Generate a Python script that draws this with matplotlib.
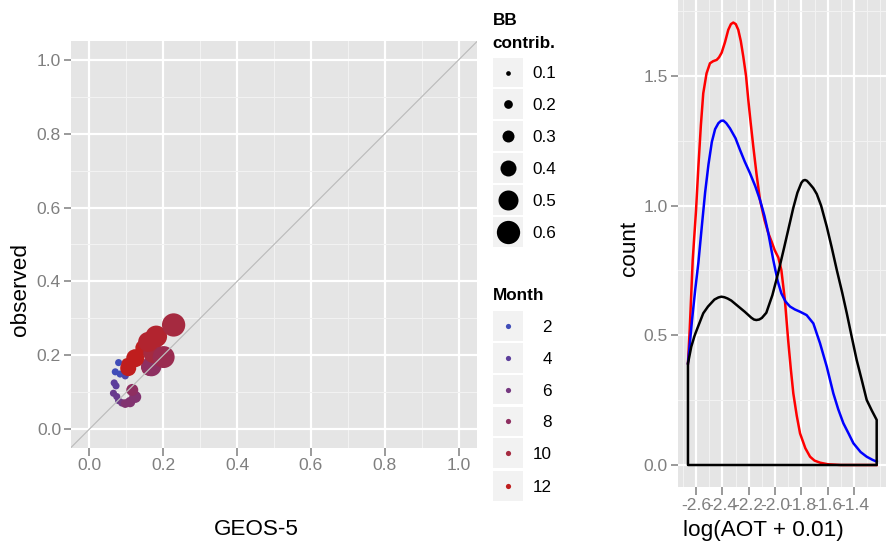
import numpy as np
import matplotlib
matplotlib.use('Agg')
import matplotlib.pyplot as plt
from matplotlib.colors import LinearSegmentedColormap
from matplotlib.patches import Rectangle, Polygon

plt.rcParams['font.family'] = ['Liberation Sans', 'DejaVu Sans']

# ---------------- scatter data (GEOS-5 vs observed) ----------------
geos5 = [0.079, 0.070, 0.083, 0.097, 0.067, 0.072, 0.065, 0.074, 0.079, 0.088,
         0.097, 0.110, 0.124, 0.116, 0.164, 0.168, 0.105, 0.101, 0.119, 0.124,
         0.146, 0.173, 0.201, 0.159, 0.181, 0.228]
observed = [0.180, 0.155, 0.149, 0.144, 0.125, 0.117, 0.097, 0.088, 0.077, 0.071,
            0.069, 0.073, 0.087, 0.106, 0.168, 0.170, 0.165, 0.178, 0.196, 0.192,
            0.220, 0.206, 0.195, 0.236, 0.251, 0.282]
month = [2, 2, 2, 3, 4, 4, 5, 5, 5, 6,
         7, 7, 7, 8, 9, 8, 12, 12, 12, 12,
         12, 10, 9, 11, 11, 10]
bb_contrib = [0.16, 0.16, 0.16, 0.16, 0.16, 0.16, 0.16, 0.16, 0.16, 0.17,
              0.2, 0.25, 0.3, 0.3, 0.45, 0.5, 0.4, 0.25, 0.3, 0.45,
              0.4, 0.5, 0.56, 0.5, 0.55, 0.6]

bb_legend_values = [0.1, 0.2, 0.3, 0.4, 0.5, 0.6]
bb_legend_labels = ['0.1', '0.2', '0.3', '0.4', '0.5', '0.6']
month_legend_values = [2, 4, 6, 8, 10, 12]
month_legend_labels = ['2', '4', '6', '8', '10', '12']
month_colors = ['#404DB8', '#5C3E9B', '#753880', '#8E2F61', '#A52A40', '#BF1E1E']

# ---------------- density data ----------------
black_x = [-2.661, -2.648, -2.636, -2.61, -2.585, -2.545, -2.509, -2.46, -2.43, -2.408,
           -2.385, -2.36, -2.332, -2.28, -2.23, -2.18, -2.16, -2.142, -2.12, -2.10,
           -2.066, -2.02, -1.977, -1.93, -1.90, -1.862, -1.83, -1.80, -1.786, -1.772,
           -1.758, -1.74, -1.71, -1.683, -1.65, -1.607, -1.57, -1.531, -1.49, -1.455,
           -1.42, -1.38, -1.34, -1.304, -1.265, -1.228]
black_y = [0.392, 0.425, 0.456, 0.50, 0.533, 0.585, 0.611, 0.638, 0.646, 0.649,
           0.647, 0.642, 0.634, 0.612, 0.591, 0.568, 0.561, 0.559, 0.561, 0.567,
           0.587, 0.655, 0.739, 0.84, 0.906, 0.99, 1.05, 1.088, 1.097, 1.099,
           1.096, 1.086, 1.068, 1.045, 1.0, 0.919, 0.84, 0.752, 0.665, 0.585,
           0.50, 0.405, 0.325, 0.251, 0.21, 0.174]

red_x = [-2.661, -2.648, -2.636, -2.625, -2.60, -2.582, -2.563, -2.545, -2.52, -2.494,
         -2.47, -2.443, -2.425, -2.405, -2.38, -2.355, -2.335, -2.317, -2.298, -2.279,
         -2.26, -2.241, -2.22, -2.203, -2.185, -2.165, -2.14, -2.114, -2.08, -2.051,
         -2.025, -2.003, -1.975, -1.952, -1.925, -1.90, -1.88, -1.861, -1.835, -1.81,
         -1.77, -1.734, -1.70, -1.658, -1.60, -1.50, -1.40, -1.30, -1.228]
red_y = [0.392, 0.52, 0.66, 0.79, 0.98, 1.15, 1.31, 1.433, 1.51, 1.549,
         1.557, 1.562, 1.572, 1.59, 1.63, 1.678, 1.70, 1.706, 1.70, 1.678,
         1.635, 1.575, 1.50, 1.408, 1.32, 1.228, 1.12, 1.022, 0.945, 0.894,
         0.86, 0.829, 0.80, 0.752, 0.636, 0.48, 0.37, 0.276, 0.19, 0.122,
         0.065, 0.032, 0.017, 0.009, 0.003, 0.0, 0.0, 0.0, 0.0]

blue_x = [-2.661, -2.63, -2.605, -2.582, -2.554, -2.531, -2.505, -2.48, -2.455, -2.43,
          -2.41, -2.392, -2.37, -2.342, -2.30, -2.266, -2.23, -2.19, -2.15, -2.114,
          -2.08, -2.051, -2.013, -1.98, -1.952, -1.92, -1.886, -1.85, -1.81, -1.76,
          -1.709, -1.658, -1.607, -1.557, -1.52, -1.481, -1.44, -1.405, -1.35, -1.304,
          -1.26, -1.228]
blue_y = [0.392, 0.56, 0.68, 0.78, 0.93, 1.05, 1.16, 1.245, 1.295, 1.318,
          1.327, 1.328, 1.318, 1.298, 1.26, 1.215, 1.17, 1.125, 1.075, 1.022,
          0.96, 0.894, 0.79, 0.71, 0.662, 0.63, 0.611, 0.60, 0.591, 0.578,
          0.546, 0.469, 0.379, 0.276, 0.215, 0.161, 0.12, 0.084, 0.05, 0.032,
          0.02, 0.013]

dens_xticks = [-2.6, -2.4, -2.2, -2.0, -1.8, -1.6, -1.4]
dens_xticklabels = ['-2.6', '-2.4', '-2.2', '-2.0', '-1.8', '-1.6', '-1.4']
dens_yticks = [0.0, 0.5, 1.0, 1.5]
dens_yticklabels = ['0.0', '0.5', '1.0', '1.5']
sc_ticks = [0.0, 0.2, 0.4, 0.6, 0.8, 1.0]
sc_ticklabels = ['0.0', '0.2', '0.4', '0.6', '0.8', '1.0']

# ---------------- style helpers ----------------
W, H = 886, 545
BG = '#E5E5E5'
TICKC = '#7F7F7F'
legend_diam_px = [4.7, 8.7, 12.0, 16.0, 20.0, 23.3]


def size_of(bb):
    d = np.interp(bb, bb_legend_values, legend_diam_px)
    return (np.asarray(d) * 0.72) ** 2


cmap = LinearSegmentedColormap.from_list(
    'month', list(zip([(m - 2) / 10 for m in month_legend_values], month_colors)))


def style_axes(ax):
    ax.set_facecolor(BG)
    for s in ax.spines.values():
        s.set_visible(False)
    ax.grid(which='major', color='white', lw=1.6, zorder=0)
    ax.grid(which='minor', color='#F2F2F2', lw=0.8, zorder=0)
    ax.set_axisbelow(True)
    ax.tick_params(which='major', length=5.4, width=1.1, color=TICKC,
                   labelcolor=TICKC, labelsize=12.6)
    ax.tick_params(axis='x', pad=2.4)
    ax.tick_params(axis='y', pad=1.8)
    ax.tick_params(which='minor', length=0)


fig = plt.figure(figsize=(W / 100, H / 100), dpi=100)


def px_axes(x0, y0, x1, y1):
    return fig.add_axes([x0 / W, 1 - y1 / H, (x1 - x0) / W, (y1 - y0) / H])


# ---------------- scatter panel ----------------
ax1 = px_axes(71, 41.5, 477, 447.5)
style_axes(ax1)
ax1.set_xlim(-0.05, 1.05)
ax1.set_ylim(-0.05, 1.05)
ax1.set_xticks(sc_ticks)
ax1.set_xticklabels(sc_ticklabels)
ax1.set_yticks(sc_ticks)
ax1.set_yticklabels(sc_ticklabels)
ax1.set_xticks([0.1, 0.3, 0.5, 0.7, 0.9], minor=True)
ax1.set_yticks([0.1, 0.3, 0.5, 0.7, 0.9], minor=True)
ax1.scatter(geos5, observed, s=size_of(bb_contrib),
            c=cmap((np.asarray(month) - 2) / 10), linewidths=0, zorder=3)
ax1.axline((0, 0), slope=1, color='#BDBDBD', lw=0.9, zorder=4)

# ---------------- density panel ----------------
ax2 = px_axes(678, 0, 886, 487)
style_axes(ax2)
ax2.set_xlim(-2.7367, -1.1573)
ax2.set_ylim(-0.0848, 1.793)
ax2.set_xticks(dens_xticks)
ax2.set_xticklabels(dens_xticklabels)
ax2.set_yticks(dens_yticks)
ax2.set_yticklabels(dens_yticklabels)
ax2.set_xticks([-2.7, -2.5, -2.3, -2.1, -1.9, -1.7, -1.5, -1.3, -1.2], minor=True)
ax2.set_yticks([0.25, 0.75, 1.25, 1.75], minor=True)
ax2.plot(red_x, red_y, color='red', lw=1.8, zorder=3, solid_joinstyle='round')
ax2.plot(blue_x, blue_y, color='blue', lw=1.8, zorder=3, solid_joinstyle='round')
poly_x = [black_x[0]] + black_x + [black_x[-1]]
poly_y = [0.0] + black_y + [0.0]
ax2.add_patch(Polygon(np.column_stack([poly_x, poly_y]), closed=True, fill=False,
                      edgecolor='black', lw=1.8, zorder=4, joinstyle='round'))

# ---------------- overlay (titles + legends) in pixel coords ----------------
ov = fig.add_axes([0, 0, 1, 1], zorder=10)
ov.set_xlim(0, W)
ov.set_ylim(H, 0)
ov.axis('off')
ov.patch.set_alpha(0)

ov.text(256, 535, 'GEOS-5', fontsize=16.2, ha='center', va='baseline')
ov.text(763, 536, 'log(AOT + 0.01)', fontsize=16.2, ha='center', va='baseline')
ov.text(21, 290, 'observed', fontsize=16.2, ha='center', va='center', rotation=90)
ov.text(630, 248, 'count', fontsize=16.2, ha='center', va='center', rotation=90)

# BB contrib legend
ov.text(492.7, 25, 'BB', fontsize=12.3, fontweight='bold', ha='left', va='baseline')
ov.text(492.7, 48, 'contrib.', fontsize=12.3, fontweight='bold', ha='left', va='baseline')
bb_centers = [72.5, 104, 136, 168, 200, 232]
for v, lab, cy in zip(bb_legend_values, bb_legend_labels, bb_centers):
    ov.add_patch(Rectangle((492.7, cy - 14.8), 30, 29.6, facecolor='#F2F2F2',
                           edgecolor='none'))
    ov.scatter([507.7], [cy], s=size_of(v), color='black', linewidths=0)
    ov.text(532.7, cy, lab, fontsize=12.3, ha='left', va='center_baseline')

# Month legend
ov.text(492.7, 300, 'Month', fontsize=12.3, fontweight='bold', ha='left', va='baseline')
m_centers = [326, 357.8, 389.5, 421.3, 453.2, 485.8]
for col, lab, cy in zip(month_colors, month_legend_labels, m_centers):
    ov.add_patch(Rectangle((492.7, cy - 14.8), 30, 29.6, facecolor='#F2F2F2',
                           edgecolor='none'))
    ov.scatter([507.7], [cy], s=(5.2 * 0.72) ** 2, color=col, linewidths=0)
    ov.text(552, cy, lab, fontsize=12.3, ha='right', va='center_baseline')

fig.savefig('out.png', dpi=100)
